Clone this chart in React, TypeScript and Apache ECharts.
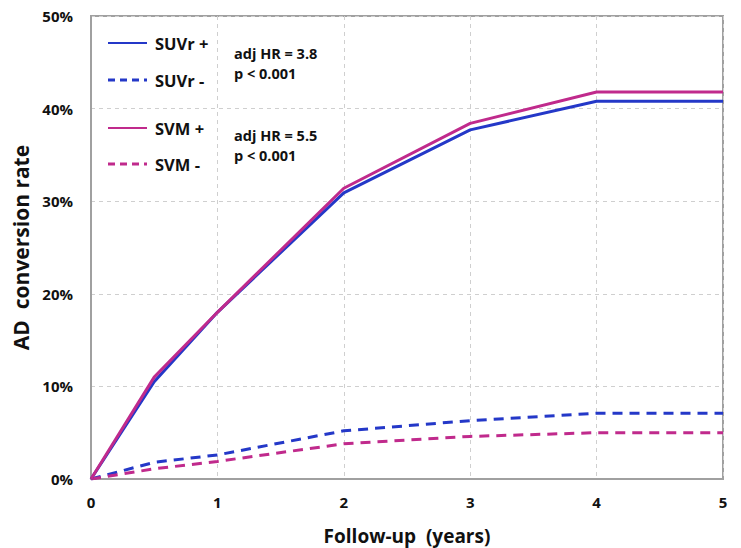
import React, { useEffect, useRef } from "react";
import * as echarts from "echarts";

const years = [0, 0.5, 1, 2, 3, 4, 5];
const suvrPos = [0, 10.5, 18.0, 30.9, 37.7, 40.8, 40.8];
const suvrNeg = [0, 1.8, 2.6, 5.2, 6.3, 7.1, 7.1];
const svmPos = [0, 11.0, 18.0, 31.4, 38.4, 41.8, 41.8];
const svmNeg = [0, 1.1, 1.9, 3.8, 4.6, 5.0, 5.0];
const seriesNames = ["SUVr +", "SUVr -", "SVM +", "SVM -"];
const annotations = ["adj HR = 3.8", "p < 0.001", "adj HR = 5.5", "p < 0.001"];

const BLUE = "#2438c8";
const PINK = "#c02a8c";
const FONT = "'Open Sans', 'Noto Sans', sans-serif";
const DASH = [10, 7];

const pairs = (ys: number[]) => years.map((x, i) => [x, ys[i]]);

export default function App() {
  const ref = useRef<HTMLDivElement>(null);
  useEffect(() => {
    const chart = echarts.init(ref.current!, undefined, { renderer: "svg" });
    const colors = [BLUE, BLUE, PINK, PINK];
    const dashed = [false, true, false, true];
    const mk = (i: number, data: number[]) => ({
      name: seriesNames[i],
      type: "line",
      data: pairs(data),
      symbol: "none",
      lineStyle: { color: colors[i], width: 3, type: dashed[i] ? DASH : "solid" },
      itemStyle: { color: colors[i] },
      z: dashed[i] ? 2 : 3,
    });
    const legendY = [43, 80, 128, 164];
    const legendGraphics: any[] = [];
    seriesNames.forEach((n, i) => {
      legendGraphics.push({
        type: "line",
        shape: { x1: 108, y1: legendY[i], x2: 147, y2: legendY[i] },
        style: { stroke: colors[i], lineWidth: dashed[i] ? 3 : 2, lineDash: dashed[i] ? [7, 5] : null },
      });
      legendGraphics.push({
        type: "text",
        x: 155,
        y: legendY[i],
        style: {
          text: n,
          fontFamily: FONT,
          fontWeight: "bold",
          fontSize: 16.5,
          fill: "#111",
          verticalAlign: "middle",
          align: "left",
        },
      });
    });
    const annY = [53, 73, 135, 155];
    annotations.forEach((t, i) => {
      legendGraphics.push({
        type: "text",
        x: 234,
        y: annY[i],
        style: {
          text: t,
          fontFamily: FONT,
          fontWeight: "bold",
          fontSize: 14.5,
          fill: "#111",
          verticalAlign: "middle",
          align: "left",
        },
      });
    });
    chart.setOption({
      animation: false,
      backgroundColor: "#fff",
      grid: {
        left: 91,
        top: 16,
        right: 18,
        bottom: 69,
        show: true,
        borderColor: "#a0a0a0",
        borderWidth: 2,
        outerBoundsMode: "none",
        containLabel: false,
      },
      xAxis: {
        type: "value",
        min: 0,
        max: 5,
        interval: 1,
        name: "Follow-up  (years)",
        nameLocation: "middle",
        nameGap: 47,
        nameTextStyle: { fontFamily: FONT, fontWeight: "bold", fontSize: 19, color: "#111" },
        axisLine: { show: true, lineStyle: { color: "#a0a0a0", width: 2 } },
        axisTick: { show: false },
        axisLabel: { margin: 15, fontFamily: FONT, fontWeight: "bold", fontSize: 15, color: "#111" },
        splitLine: { show: true, lineStyle: { color: "#cfcfcf", type: [4, 4], width: 1 } },
      },
      yAxis: {
        type: "value",
        min: 0,
        max: 50,
        interval: 10,
        name: "AD  conversion rate",
        nameLocation: "middle",
        nameGap: 52,
        nameTextStyle: { fontFamily: FONT, fontWeight: "bold", fontSize: 21, color: "#111" },
        axisLine: { show: true, lineStyle: { color: "#a0a0a0", width: 2 } },
        axisTick: { show: false },
        axisLabel: { margin: 18, fontFamily: FONT, fontWeight: "bold", fontSize: 15, color: "#111", formatter: "{value}%" },
        splitLine: { show: true, lineStyle: { color: "#cfcfcf", type: [4, 4], width: 1 } },
      },
      series: [mk(0, suvrPos), mk(1, suvrNeg), mk(2, svmPos), mk(3, svmNeg)],
      graphic: legendGraphics,
    });
    return () => chart.dispose();
  }, []);
  return <div ref={ref} style={{ width: 741, height: 548, position: "absolute", left: 0, top: 0 }} />;
}
